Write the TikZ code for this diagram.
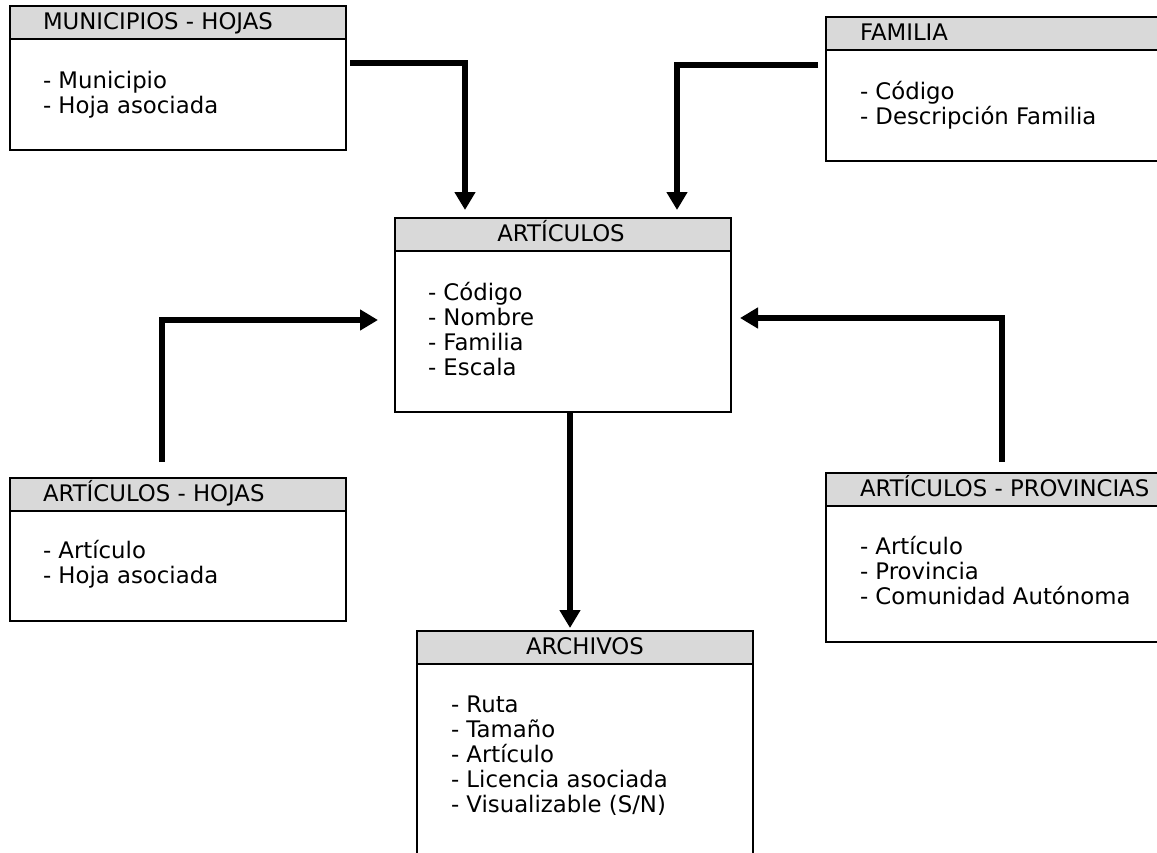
\documentclass[tikz,border=0pt]{standalone}
\usepackage{fontspec}
\setmainfont{DejaVu Sans}
\usetikzlibrary{arrows.meta}
\definecolor{headgray}{RGB}{217,217,217}
\tikzset{
  ebox/.style={draw, line width=2.2pt, inner sep=0pt, outer sep=0pt, anchor=north west, minimum width=336pt},
  ehead/.style={draw, fill=headgray, line width=2.2pt, inner sep=0pt, outer sep=0pt, anchor=north west, minimum width=336pt, minimum height=33pt},
  etxt/.style={inner sep=0pt, outer sep=0pt, font=\fontsize{22.8pt}{25pt}\selectfont},
  etitle/.style={etxt, anchor=base west},
  etitlec/.style={etxt, anchor=base},
  eitem/.style={etxt, anchor=base west},
  conn/.style={line width=5.5pt, -{Triangle[width=20pt,length=18pt]}}
}
\newcommand\eitems[4]{%
  \foreach \t [count=\i] in {#4} {\node[eitem] (#1\i) at ({#2},{#3+25*(\i-1)}) {\t};}%
}
\begin{document}
\begin{tikzpicture}[x=1pt,y=-1pt]
\useasboundingbox (0,0) rectangle (1157,852);
\clip (0,0) rectangle (1157,852);
\fill[white] (0,0) rectangle (1157,852);

% MUNICIPIOS - HOJAS
\node[ebox, minimum height=144pt] (mun) at (10,6) {};
\node[ehead] (munh) at (10,6) {};
\node[etitle] (munt) at (43,29) {MUNICIPIOS - HOJAS};
\eitems{muni}{43}{88}{- Municipio, - Hoja asociada}

% FAMILIA
\node[ebox, minimum height=144pt] (fam) at (826,17) {};
\node[ehead] (famh) at (826,17) {};
\node[etitle] (famt) at (860,40) {FAMILIA};
\eitems{fami}{860}{99}{- Código, - Descripción Familia}

% ARTICULOS
\node[ebox, minimum height=194pt] (art) at (395,218) {};
\node[ehead] (arth) at (395,218) {};
\node[etitlec] (artt) at (561,241) {ARTÍCULOS};
\eitems{arti}{428}{300}{- Código, - Nombre, - Familia, - Escala}

% ARTICULOS - HOJAS
\node[ebox, minimum height=143pt] (ah) at (10,478) {};
\node[ehead] (ahh) at (10,478) {};
\node[etitle] (aht) at (43,501) {ARTÍCULOS - HOJAS};
\eitems{ahi}{43}{558}{- Artículo, - Hoja asociada}

% ARTICULOS - PROVINCIAS
\node[ebox, minimum height=169pt] (ap) at (826,473) {};
\node[ehead] (aph) at (826,473) {};
\node[etitle] (apt) at (860,496) {ARTÍCULOS - PROVINCIAS};
\eitems{api}{860}{554}{- Artículo, - Provincia, - Comunidad Autónoma}

% ARCHIVOS
\node[ebox, minimum height=240pt] (arch) at (417,631) {};
\node[ehead] (archh) at (417,631) {};
\node[etitlec] (archt) at (585,654) {ARCHIVOS};
\eitems{archi}{451}{712}{- Ruta, - Tamaño, - Artículo, - Licencia asociada, - Visualizable (S/N)}

% connectors
\coordinate (munOut) at (350,63);
\coordinate (artInM) at (465,210);
\coordinate (famOut) at (818,65);
\coordinate (artInF) at (677,210);
\coordinate (ahOut) at (162,462);
\coordinate (artInL) at (378,320);
\coordinate (apOut) at (1002,462);
\coordinate (artInR) at (740,318);
\coordinate (artOut) at (570,412);
\coordinate (archIn) at (570,628);

\draw[conn] (munOut) -| (artInM);
\draw[conn] (famOut) -| (artInF);
\draw[conn] (ahOut) |- (artInL);
\draw[conn] (apOut) |- (artInR);
\draw[conn] (artOut) -- (archIn);
\end{tikzpicture}
\end{document}
